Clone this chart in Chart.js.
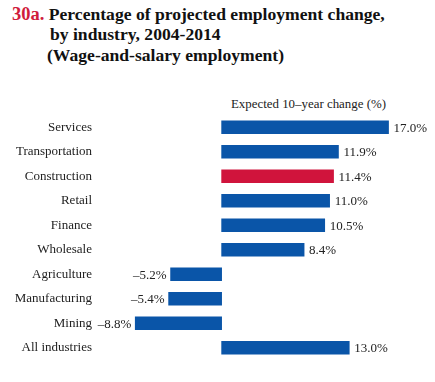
<!DOCTYPE html>
<html><head><meta charset="utf-8">
<script src="https://cdn.jsdelivr.net/npm/chart.js@4/dist/chart.umd.min.js"></script>
<style>
html,body{margin:0;padding:0;background:#fff;width:435px;height:382px;overflow:hidden;}
#wrap{position:relative;width:435px;height:382px;font-family:"Liberation Serif","Times New Roman",serif;}
.t{position:absolute;font-weight:bold;font-size:17.6px;color:#111;white-space:nowrap;line-height:21px;}
#cap{position:absolute;left:231px;top:97px;font-size:12.9px;color:#222;white-space:nowrap;}
canvas{position:absolute;left:0;top:0;}
</style></head><body>
<div id="wrap">
<div class="t" style="left:12px;top:4px;"><span style="color:#d01c3c;font-size:18.5px;">30a.</span> Percentage of projected employment change,</div>
<div class="t" style="left:50px;top:24px;">by industry, 2004-2014</div>
<div class="t" style="left:47px;top:45px;">(Wage-and-salary employment)</div>
<div id="cap">Expected 10–year change (%)</div>
<canvas id="c" width="435" height="382"></canvas>
</div>
<script>
const categories = ["Services","Transportation","Construction","Retail","Finance","Wholesale","Agriculture","Manufacturing","Mining","All industries"];
const values = [17.0, 11.9, 11.4, 11.0, 10.5, 8.4, -5.2, -5.4, -8.8, 13.0];
const highlight = ["Construction"];
const blue = "#0a55a8", red = "#d0143c";

const valueLabels = {
  id: "valueLabels",
  afterDatasetsDraw(chart) {
    const ctx = chart.ctx;
    const meta = chart.getDatasetMeta(0);
    ctx.save();
    ctx.font = "13px 'Liberation Serif', 'Times New Roman', serif";
    ctx.fillStyle = "#222";
    ctx.textBaseline = "middle";
    meta.data.forEach((bar, i) => {
      const v = values[i];
      const txt = (v < 0 ? "\u2013" + Math.abs(v).toFixed(1) : v.toFixed(1)) + "%";
      if (v >= 0) { ctx.textAlign = "left"; ctx.fillText(txt, bar.x + 5, bar.y + 1); }
      else { ctx.textAlign = "right"; ctx.fillText(txt, bar.x - 4, bar.y + 1); }
    });
    ctx.restore();
  }
};

new Chart(document.getElementById("c"), {
  type: "bar",
  data: {
    labels: categories,
    datasets: [{
      data: values,
      backgroundColor: categories.map(c => highlight.includes(c) ? red : blue),
      barThickness: 13,
      borderWidth: 0
    }]
  },
  options: {
    indexAxis: "y",
    responsive: false,
    animation: false,
    devicePixelRatio: 1,
    layout: { padding: { left: 0, right: 17, top: 115, bottom: 22 } },
    plugins: { legend: { display: false }, tooltip: { enabled: false }, title: { display: false } },
    scales: {
      x: { min: -13, max: 20, display: false, grid: { display: false } },
      y: {
        grid: { display: false, drawTicks: false },
        border: { display: false },
        ticks: {
          color: "#222",
          padding: 2,
          font: { family: "'Liberation Serif', 'Times New Roman', serif", size: 13 }
        },
        afterFit(axis) { axis.width = 94; }
      }
    }
  },
  plugins: [valueLabels]
});
</script>
</body></html>
